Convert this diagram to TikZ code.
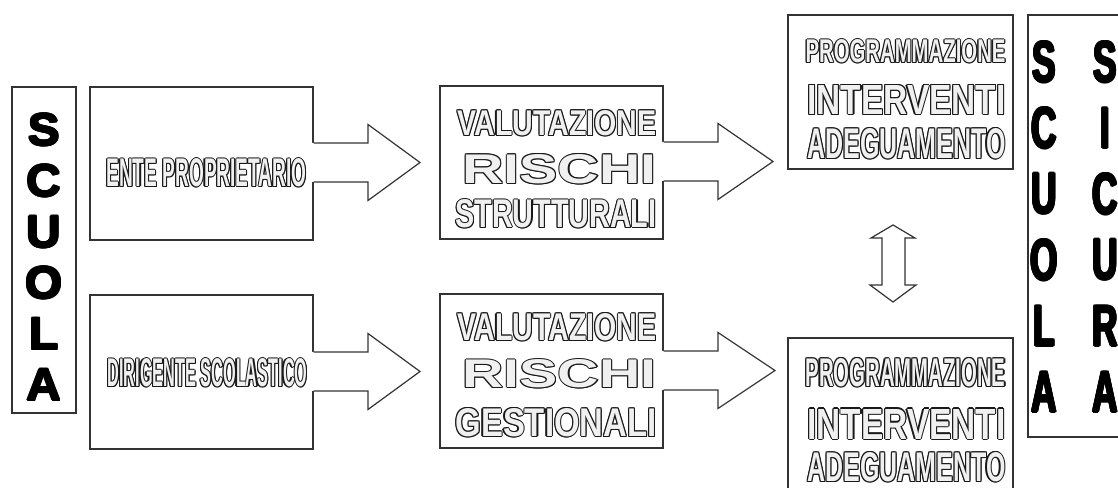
\documentclass[tikz,border=0pt]{standalone}
\usepackage{fontspec}
\setmainfont{Liberation Sans}
\usepackage{graphicx}
\usetikzlibrary{fit}
\newlength\unitpx \setlength\unitpx{0.75pt}
\newlength\olw
\newsavebox\obox
\newcommand\ocp[2]{\rlap{\kern#1\raisebox{#2}{\usebox\obox}}}
\newcommand\ring{\ocp{\olw}{0pt}\ocp{-\olw}{0pt}\ocp{0pt}{\olw}\ocp{0pt}{-\olw}\ocp{.7\olw}{.7\olw}\ocp{-.7\olw}{.7\olw}\ocp{.7\olw}{-.7\olw}\ocp{-.7\olw}{-.7\olw}}
% outlined (hollow) text, resized to #1 x #2 px
\newcommand\otext[3]{\setbox\obox\hbox{\resizebox{#1\unitpx}{#2\unitpx}{\bfseries #3}}\leavevmode
  {\setlength\olw{0.85pt}\color{black!90}\ring}%
  {\color{black!6}\usebox\obox}}
% heavy black letter
\newcommand\htext[2]{\setbox\obox\hbox{#2}\setlength\olw{#1}\leavevmode{\color{black}\ring\usebox\obox}}
\newcommand\barrow[4]{%
  \pgfmathsetmacro\sa{#2-19.5}\pgfmathsetmacro\sb{#2+19.5}%
  \pgfmathsetmacro\ha{#2-38}\pgfmathsetmacro\hb{#2+38}%
  \fill[white] (#1.east |- 0,\sa) ++(-3,0) -- (#3,\sa) -- (#3,\ha) -- (#4,#2) -- (#3,\hb) -- (#3,\sb) -- (#1.east |- 0,\sb) -- ++(-3,0) -- cycle;
  \draw[edge] (#1.east |- 0,\sa) -- (#3,\sa) -- (#3,\ha) -- (#4,#2) -- (#3,\hb) -- (#3,\sb) -- (#1.east |- 0,\sb);
}
\begin{document}
\begin{tikzpicture}[x=0.75pt,y=-0.75pt,
  box/.style={draw=black!80, line width=0.9pt, inner sep=0pt},
  edge/.style={draw=black!80, line width=0.9pt, line join=miter},
  lbl/.style={inner sep=0pt}]
\useasboundingbox (0,0) rectangle (1118,488);
\fill[white] (0,0) rectangle (1118,488);
\clip (0,0) rectangle (1118,488);

% boxes
\node[box, fit={(12,87) (76,413)}] (scuola) {};
\node[box, fit={(90,87) (313,240)}] (ente) {};
\node[box, fit={(90,295) (313,449)}] (dir) {};
\node[box, fit={(440,86) (663,239)}] (val1) {};
\node[box, fit={(440,294) (663,448)}] (val2) {};
\node[box, fit={(788,15) (1013,169)}] (prog1) {};
\node[box, fit={(788,338) (1013,530)}] (prog2) {};
\node[box, fit={(1028,15) (1140,437)}] (sicura) {};

% block arrows
\barrow{ente}{162.5}{368}{420}
\barrow{dir}{371.5}{368}{420}
\barrow{val1}{161.5}{718}{773}
\barrow{val2}{370.5}{718}{775}

% double vertical arrow
\draw[edge, fill=white] (893,225) -- (915,238) -- (905,238) -- (905,285) -- (916,285) -- (893,302) -- (870,285) -- (882,285) -- (882,238) -- (871,238) -- cycle;

% left SCUOLA
\foreach \ch [count=\i] in {S,C,U,O,L,A}
  \node[lbl] (ls\i) at (44,{130+51*(\i-1)}) {\htext{0.7pt}{\scalebox{1.05}[1]{\fontsize{34}{36}\selectfont\bfseries \ch}}};

% right SCUOLA / SICURA
\foreach \ch [count=\i] in {S,C,U,O,L,A}
  \node[lbl] (rs\i) at (1044,{62+66*(\i-1)}) {\htext{0.8pt}{\scalebox{0.6}[1]{\fontsize{44}{46}\selectfont\bfseries \ch}}};
\foreach \ch [count=\i] in {S,I,C,U,R,A}
  \node[lbl] (rt\i) at (1105,{62+66*(\i-1)}) {\htext{0.8pt}{\scalebox{0.6}[1]{\fontsize{44}{46}\selectfont\bfseries \ch}}};

% labels
\node[lbl] (t1) at (206.5,173) {\otext{200}{28}{ENTE PROPRIETARIO}};
\node[lbl] (t2) at (207.5,373) {\otext{200}{28}{DIRIGENTE SCOLASTICO}};

\node[lbl] (v1a) at (557,123) {\otext{199}{25}{VALUTAZIONE}};
\node[lbl] (v1b) at (559.5,169) {\otext{194}{29}{RISCHI}};
\node[lbl] (v1c) at (556,214) {\otext{201}{28}{STRUTTURALI}};

\node[lbl] (v2a) at (557,327) {\otext{199}{27}{VALUTAZIONE}};
\node[lbl] (v2b) at (559.5,374) {\otext{194}{28}{RISCHI}};
\node[lbl] (v2c) at (556,422.5) {\otext{201}{28}{GESTIONALI}};

\node[lbl] (p1a) at (905.5,51.5) {\otext{200}{23}{PROGRAMMAZIONE}};
\node[lbl] (p1b) at (906.5,100) {\otext{198}{29}{INTERVENTI}};
\node[lbl] (p1c) at (906.5,144) {\otext{198}{30}{ADEGUAMENTO}};

\node[lbl] (p2a) at (905.5,372.5) {\otext{200}{28}{PROGRAMMAZIONE}};
\node[lbl] (p2b) at (906.5,424) {\otext{198}{30}{INTERVENTI}};
\node[lbl] (p2c) at (906.5,467) {\otext{198}{29}{ADEGUAMENTO}};
\end{tikzpicture}
\end{document}
